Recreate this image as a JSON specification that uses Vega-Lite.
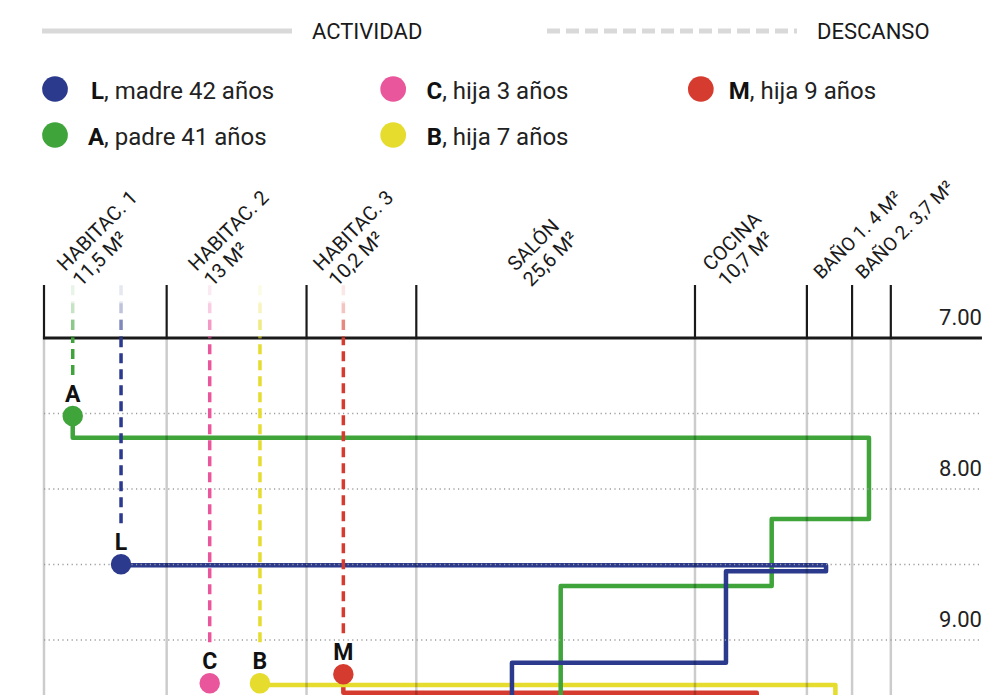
{
  "$schema": "https://vega.github.io/schema/vega-lite/v6.json",
  "width": 1004,
  "height": 695,
  "autosize": {"type": "none"},
  "padding": 0,
  "background": "#ffffff",
  "config": {"view": {"stroke": null}, "font": "Roboto"},
  "datasets": {
    "persons": [
      {"person": "L", "letter": "L", "rest": ", madre 42 años", "pos": 7.16, "time": 8.499, "col": 1, "row": 0},
      {"person": "A", "letter": "A", "rest": ", padre 41 años", "pos": 2.67, "time": 7.517, "col": 1, "row": 1},
      {"person": "C", "letter": "C", "rest": ", hija 3 años", "pos": 15.4, "time": 9.287, "col": 2, "row": 0},
      {"person": "B", "letter": "B", "rest": ", hija 7 años", "pos": 20.07, "time": 9.287, "col": 2, "row": 1},
      {"person": "M", "letter": "M", "rest": ", hija 9 años", "pos": 27.82, "time": 9.227, "col": 3, "row": 0}
    ],
    "paths": [
      {"person": "M", "step": 0, "pos": 27.82, "time": 9.227},
      {"person": "M", "step": 1, "pos": 27.82, "time": 9.349},
      {"person": "M", "step": 2, "pos": 66.24, "time": 9.349},
      {"person": "M", "step": 3, "pos": 66.24, "time": 9.6},
      {"person": "B", "step": 0, "pos": 20.07, "time": 9.298},
      {"person": "B", "step": 1, "pos": 73.55, "time": 9.298},
      {"person": "B", "step": 2, "pos": 73.55, "time": 9.6},
      {"person": "A", "step": 0, "pos": 2.67, "time": 7.517},
      {"person": "A", "step": 1, "pos": 2.67, "time": 7.66},
      {"person": "A", "step": 2, "pos": 76.67, "time": 7.66},
      {"person": "A", "step": 3, "pos": 76.67, "time": 8.199},
      {"person": "A", "step": 4, "pos": 67.63, "time": 8.199},
      {"person": "A", "step": 5, "pos": 67.63, "time": 8.642},
      {"person": "A", "step": 6, "pos": 48.02, "time": 8.642},
      {"person": "A", "step": 7, "pos": 48.02, "time": 9.6},
      {"person": "L", "step": 0, "pos": 7.16, "time": 8.505},
      {"person": "L", "step": 1, "pos": 72.68, "time": 8.505},
      {"person": "L", "step": 2, "pos": 72.68, "time": 8.545},
      {"person": "L", "step": 3, "pos": 63.38, "time": 8.545},
      {"person": "L", "step": 4, "pos": 63.38, "time": 9.15},
      {"person": "L", "step": 5, "pos": 43.49, "time": 9.15},
      {"person": "L", "step": 6, "pos": 43.49, "time": 9.6}
    ],
    "rooms": [
      {"label": "HABITAC. 1\n11,5 M²", "start": 0, "end": 11.4},
      {"label": "HABITAC. 2\n13 M²", "start": 11.4, "end": 24.4},
      {"label": "HABITAC. 3\n10,2 M²", "start": 24.4, "end": 34.6},
      {"label": "SALÓN\n25,6 M²", "start": 34.6, "end": 60.5},
      {"label": "COCINA\n10,7 M²", "start": 60.5, "end": 70.9},
      {"label": "BAÑO 1. 4 M²", "start": 70.9, "end": 75.1},
      {"label": "BAÑO 2. 3,7 M²", "start": 75.1, "end": 78.7}
    ],
    "hours": [
      {"time": 7, "label": "7.00"},
      {"time": 8, "label": "8.00"},
      {"time": 9, "label": "9.00"}
    ],
    "grid": [{"time": 7.5}, {"time": 8}, {"time": 8.5}, {"time": 9}],
    "styles": [
      {"label": "ACTIVIDAD", "kind": 0},
      {"label": "DESCANSO", "kind": 1}
    ]
  },
  "layer": [
    {
      "data": {"name": "styles"},
      "encoding": {
        "x": {"field": "kind", "type": "quantitative", "scale": {"domain": [-0.08317, 1.90495], "nice": false, "zero": false}, "axis": null},
        "y": {"datum": 0, "scale": {"domain": [-1, 21.4194], "reverse": true, "nice": false, "zero": false}, "axis": null}
      },
      "layer": [
        {
          "mark": {"type": "rule", "strokeWidth": 5, "color": "#d9d9d9", "x2Offset": 250},
          "encoding": {
            "x2": {"field": "kind"},
            "strokeDash": {"field": "label", "type": "nominal", "scale": {"domain": ["ACTIVIDAD", "DESCANSO"], "range": [[1, 0], [13, 6]]}, "legend": null}
          }
        },
        {
          "mark": {"type": "text", "align": "left", "baseline": "alphabetic", "dx": 270, "dy": 8.5, "fontSize": 22, "color": "#1a1a1a"},
          "encoding": {"text": {"field": "label"}}
        }
      ]
    },
    {
      "data": {"name": "persons"},
      "encoding": {
        "x": {"field": "col", "type": "quantitative", "scale": {"type": "pow", "exponent": 0.82, "domain": [0.8503, 4.049], "nice": false, "zero": false}, "axis": null},
        "y": {"field": "row", "type": "quantitative", "scale": {"domain": [-1.93478, 13.1739], "reverse": true, "nice": false, "zero": false}, "axis": null}
      },
      "layer": [
        {
          "mark": {"type": "point", "filled": true, "size": 660, "opacity": 1},
          "encoding": {
            "color": {"field": "person", "type": "nominal", "scale": {"domain": ["L", "A", "C", "B", "M"], "range": ["#2b3a8c", "#3fa43a", "#e9569b", "#e5dc2d", "#d63b2f"]}, "legend": null}
          }
        },
        {
          "mark": {"type": "text", "align": "right", "baseline": "alphabetic", "dx": 49, "dy": 10, "fontSize": 24, "fontWeight": "bold", "color": "#111111"},
          "encoding": {"text": {"field": "letter"}}
        },
        {
          "mark": {"type": "text", "align": "left", "baseline": "alphabetic", "dx": 49, "dy": 10, "fontSize": 24, "color": "#222222"},
          "encoding": {"text": {"field": "rest"}}
        }
      ]
    },
    {
      "layer": [
        {
          "data": {"name": "rooms"},
          "transform": [
            {"fold": ["start", "end"], "as": ["edge", "pos"]},
            {"aggregate": [{"op": "count", "as": "n"}], "groupby": ["pos"]}
          ],
          "mark": {"type": "rule", "color": "#1a1a1a", "strokeWidth": 2.2},
          "encoding": {
            "x": {"field": "pos", "type": "quantitative", "scale": {"domain": [-4.0892, 89.219], "nice": false, "zero": false}, "axis": null},
            "y": {"datum": 6.649, "scale": {"domain": [4.7616, 9.3642], "reverse": true, "nice": false, "zero": false}, "axis": null},
            "y2": {"datum": 7}
          }
        },
        {
          "data": {"values": [{"time": 7}]},
          "mark": {"type": "rule", "color": "#1a1a1a", "strokeWidth": 3},
          "encoding": {
            "x": {"datum": -0.1, "scale": {"domain": [-4.0892, 89.219], "nice": false, "zero": false}, "axis": null},
            "x2": {"datum": 87.17},
            "y": {"field": "time", "type": "quantitative", "scale": {"domain": [4.7616, 9.3642], "reverse": true, "nice": false, "zero": false}, "axis": null}
          }
        },
        {
          "data": {"name": "rooms"},
          "transform": [
            {"filter": "indexof(datum.label, 'BAÑO') < 0"},
            {"fold": ["start", "end"], "as": ["edge", "pos"]},
            {"aggregate": [{"op": "mean", "field": "pos", "as": "mid"}], "groupby": ["label"]}
          ],
          "mark": {"type": "text", "angle": 315, "align": "left", "baseline": "alphabetic", "lineBreak": "\n", "fontSize": 20, "lineHeight": 22, "xOffset": -40, "color": "#1a1a1a"},
          "encoding": {
            "x": {"field": "mid", "type": "quantitative", "scale": {"domain": [-4.0892, 89.219], "nice": false, "zero": false}, "axis": null},
            "y": {"datum": 6.563, "scale": {"domain": [4.7616, 9.3642], "reverse": true, "nice": false, "zero": false}, "axis": null},
            "text": {"field": "label"}
          }
        },
        {
          "data": {"name": "rooms"},
          "transform": [
            {"filter": "indexof(datum.label, 'BAÑO') >= 0"},
            {"fold": ["start", "end"], "as": ["edge", "pos"]},
            {"aggregate": [{"op": "mean", "field": "pos", "as": "mid"}], "groupby": ["label"]}
          ],
          "mark": {"type": "text", "angle": 315, "align": "left", "baseline": "alphabetic", "fontSize": 19, "xOffset": -8, "color": "#1a1a1a"},
          "encoding": {
            "x": {"field": "mid", "type": "quantitative", "scale": {"domain": [-4.0892, 89.219], "nice": false, "zero": false}, "axis": null},
            "y": {"datum": 6.616, "scale": {"domain": [4.7616, 9.3642], "reverse": true, "nice": false, "zero": false}, "axis": null},
            "text": {"field": "label"}
          }
        },
        {
          "data": {"name": "hours"},
          "mark": {"type": "text", "align": "right", "baseline": "alphabetic", "dy": -13, "fontSize": 22, "color": "#222222"},
          "encoding": {
            "x": {"datum": 87.17, "scale": {"domain": [-4.0892, 89.219], "nice": false, "zero": false}, "axis": null},
            "y": {"field": "time", "type": "quantitative", "scale": {"domain": [4.7616, 9.3642], "reverse": true, "nice": false, "zero": false}, "axis": null},
            "text": {"field": "label"}
          }
        },
        {
          "data": {"name": "paths"},
          "mark": {"type": "line", "strokeWidth": 4.5, "strokeJoin": "round", "strokeCap": "round", "clip": true},
          "encoding": {
            "x": {"field": "pos", "type": "quantitative", "scale": {"domain": [-4.0892, 89.219], "nice": false, "zero": false}, "axis": null},
            "y": {"field": "time", "type": "quantitative", "scale": {"domain": [4.7616, 9.3642], "reverse": true, "nice": false, "zero": false}, "axis": null},
            "color": {"field": "person", "type": "nominal", "scale": {"domain": ["L", "A", "C", "B", "M"], "range": ["#2b3a8c", "#3fa43a", "#e9569b", "#e5dc2d", "#d63b2f"]}, "legend": null},
            "order": {"field": "step", "type": "quantitative"}
          }
        },
        {
          "data": {"name": "rooms"},
          "transform": [
            {"fold": ["start", "end"], "as": ["edge", "pos"]},
            {"aggregate": [{"op": "count", "as": "n"}], "groupby": ["pos"]}
          ],
          "mark": {"type": "rule", "color": "#000000", "opacity": 0.2, "strokeWidth": 2.5},
          "encoding": {
            "x": {"field": "pos", "type": "quantitative", "scale": {"domain": [-4.0892, 89.219], "nice": false, "zero": false}, "axis": null},
            "y": {"datum": 7, "scale": {"domain": [4.7616, 9.3642], "reverse": true, "nice": false, "zero": false}, "axis": null},
            "y2": {"datum": 9.3642}
          }
        },
        {
          "data": {"name": "grid"},
          "mark": {"type": "rule", "color": "#9c9c9c", "strokeWidth": 1.6, "strokeDash": [1.2, 3.4]},
          "encoding": {
            "x": {"datum": 0, "scale": {"domain": [-4.0892, 89.219], "nice": false, "zero": false}, "axis": null},
            "x2": {"datum": 87.17},
            "y": {"field": "time", "type": "quantitative", "scale": {"domain": [4.7616, 9.3642], "reverse": true, "nice": false, "zero": false}, "axis": null}
          }
        },
        {
          "data": {"name": "persons"},
          "mark": {"type": "rule", "strokeWidth": 3.5, "strokeDash": [10, 6], "yOffset": -41},
          "encoding": {
            "x": {"field": "pos", "type": "quantitative", "scale": {"domain": [-4.0892, 89.219], "nice": false, "zero": false}, "axis": null},
            "y": {"field": "time", "type": "quantitative", "scale": {"domain": [4.7616, 9.3642], "reverse": true, "nice": false, "zero": false}, "axis": null},
            "y2": {"datum": 7},
            "color": {"field": "person", "type": "nominal", "scale": {"domain": ["L", "A", "C", "B", "M"], "range": ["#2b3a8c", "#3fa43a", "#e9569b", "#e5dc2d", "#d63b2f"]}, "legend": null}
          }
        },
        {
          "data": {"name": "persons"},
          "mark": {"type": "rule", "strokeWidth": 3.5, "strokeDash": [10, 6], "opacity": 0.6},
          "encoding": {
            "x": {"field": "pos", "type": "quantitative", "scale": {"domain": [-4.0892, 89.219], "nice": false, "zero": false}, "axis": null},
            "y": {"datum": 6.88, "scale": {"domain": [4.7616, 9.3642], "reverse": true, "nice": false, "zero": false}, "axis": null},
            "y2": {"datum": 7},
            "color": {"field": "person", "type": "nominal", "scale": {"domain": ["L", "A", "C", "B", "M"], "range": ["#2b3a8c", "#3fa43a", "#e9569b", "#e5dc2d", "#d63b2f"]}, "legend": null}
          }
        },
        {
          "data": {"name": "persons"},
          "mark": {"type": "rule", "strokeWidth": 3.5, "strokeDash": [10, 6], "opacity": 0.3},
          "encoding": {
            "x": {"field": "pos", "type": "quantitative", "scale": {"domain": [-4.0892, 89.219], "nice": false, "zero": false}, "axis": null},
            "y": {"datum": 6.77, "scale": {"domain": [4.7616, 9.3642], "reverse": true, "nice": false, "zero": false}, "axis": null},
            "y2": {"datum": 6.88},
            "color": {"field": "person", "type": "nominal", "scale": {"domain": ["L", "A", "C", "B", "M"], "range": ["#2b3a8c", "#3fa43a", "#e9569b", "#e5dc2d", "#d63b2f"]}, "legend": null}
          }
        },
        {
          "data": {"name": "persons"},
          "mark": {"type": "rule", "strokeWidth": 3.5, "strokeDash": [10, 6], "opacity": 0.12},
          "encoding": {
            "x": {"field": "pos", "type": "quantitative", "scale": {"domain": [-4.0892, 89.219], "nice": false, "zero": false}, "axis": null},
            "y": {"datum": 6.65, "scale": {"domain": [4.7616, 9.3642], "reverse": true, "nice": false, "zero": false}, "axis": null},
            "y2": {"datum": 6.77},
            "color": {"field": "person", "type": "nominal", "scale": {"domain": ["L", "A", "C", "B", "M"], "range": ["#2b3a8c", "#3fa43a", "#e9569b", "#e5dc2d", "#d63b2f"]}, "legend": null}
          }
        },
        {
          "data": {"name": "persons"},
          "mark": {"type": "point", "filled": true, "size": 420, "opacity": 1},
          "encoding": {
            "x": {"field": "pos", "type": "quantitative", "scale": {"domain": [-4.0892, 89.219], "nice": false, "zero": false}, "axis": null},
            "y": {"field": "time", "type": "quantitative", "scale": {"domain": [4.7616, 9.3642], "reverse": true, "nice": false, "zero": false}, "axis": null},
            "color": {"field": "person", "type": "nominal", "scale": {"domain": ["L", "A", "C", "B", "M"], "range": ["#2b3a8c", "#3fa43a", "#e9569b", "#e5dc2d", "#d63b2f"]}, "legend": null}
          }
        },
        {
          "data": {"name": "persons"},
          "mark": {"type": "text", "align": "center", "baseline": "alphabetic", "dy": -14, "fontSize": 23, "fontWeight": "bold", "color": "#111111"},
          "encoding": {
            "x": {"field": "pos", "type": "quantitative", "scale": {"domain": [-4.0892, 89.219], "nice": false, "zero": false}, "axis": null},
            "y": {"field": "time", "type": "quantitative", "scale": {"domain": [4.7616, 9.3642], "reverse": true, "nice": false, "zero": false}, "axis": null},
            "text": {"field": "letter"}
          }
        }
      ]
    }
  ],
  "resolve": {"scale": {"x": "independent", "y": "independent"}}
}
